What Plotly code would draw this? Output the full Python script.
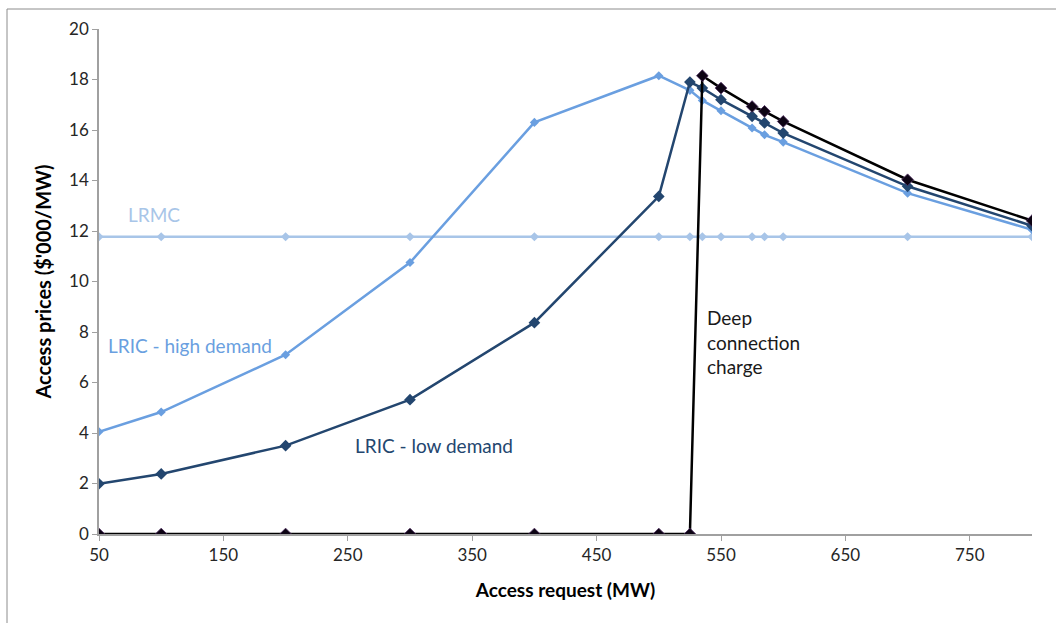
import plotly.graph_objects as go

# Access request levels (MW)
access_mw = [50, 100, 200, 300, 400, 500, 525, 535, 550, 575, 585, 600, 700, 800]

# Access prices ($'000/MW)
lrmc = [11.77] * len(access_mw)
lric_high = [4.05, 4.83, 7.1, 10.75, 16.3, 18.15, 17.57, 17.17, 16.76, 16.08, 15.81, 15.52, 13.5, 12.05]
lric_low = [1.99, 2.38, 3.5, 5.32, 8.37, 13.37, 17.9, 17.66, 17.2, 16.54, 16.28, 15.88, 13.77, 12.21]
deep_charge = [0, 0, 0, 0, 0, 0, 0, 18.15, 17.66, 16.93, 16.74, 16.34, 14.03, 12.41]

x_ticks = [50, 150, 250, 350, 450, 550, 650, 750]
y_ticks = [0, 2, 4, 6, 8, 10, 12, 14, 16, 18, 20]

C_LRMC = "#a8c5e8"
C_HIGH = "#6a9fe0"
C_LOW = "#23466f"
C_DEEP = "#000000"
FONT = "Lato"
LABEL_SIZE = 19

fig = go.Figure()

fig.add_trace(go.Scatter(
    x=access_mw, y=lrmc, mode="lines+markers", name="LRMC",
    line=dict(color=C_LRMC, width=2.5),
    marker=dict(symbol="diamond", size=7, color=C_LRMC),
))
fig.add_trace(go.Scatter(
    x=access_mw, y=lric_high, mode="lines+markers", name="LRIC - high demand",
    line=dict(color=C_HIGH, width=2.5),
    marker=dict(symbol="diamond", size=7, color=C_HIGH),
))
fig.add_trace(go.Scatter(
    x=access_mw, y=lric_low, mode="lines+markers", name="LRIC - low demand",
    line=dict(color=C_LOW, width=2.5),
    marker=dict(symbol="diamond", size=9, color=C_LOW),
))
fig.add_trace(go.Scatter(
    x=access_mw, y=deep_charge, mode="lines+markers", name="Deep connection charge",
    line=dict(color=C_DEEP, width=2.5),
    marker=dict(symbol="diamond", size=9, color="#0d0414",
                line=dict(color="#4a2a5c", width=0.8)),
))

annotations = [
    dict(x=72, y=12.65, text="LRMC", xanchor="left",
         font=dict(color=C_LRMC, size=LABEL_SIZE, family=FONT)),
    dict(x=123, y=7.46, text="LRIC - high demand",
         font=dict(color=C_HIGH, size=LABEL_SIZE, family=FONT)),
    dict(x=319, y=3.5, text="LRIC - low demand",
         font=dict(color=C_LOW, size=LABEL_SIZE, family=FONT)),
    dict(x=537.5, y=7.62, text="Deep<br>connection<br>charge", align="left",
         xanchor="left", yanchor="middle",
         font=dict(color="#1a1a1a", size=LABEL_SIZE, family=FONT)),
]
for a in annotations:
    a.update(xref="x", yref="y", showarrow=False)

fig.update_layout(
    width=1056, height=623,
    margin=dict(l=99, r=24, t=29, b=89),
    paper_bgcolor="white", plot_bgcolor="white",
    showlegend=False,
    font=dict(family=FONT, size=17, color="#262626"),
    annotations=annotations,
    shapes=[
        dict(type="line", xref="paper", yref="paper",
             x0=-92 / 933, x1=1.1, y0=1 + 20 / 505, y1=1 + 20 / 505,
             line=dict(color="#8c8c8c", width=1)),
        dict(type="line", xref="paper", yref="paper",
             x0=-92 / 933, x1=-92 / 933, y0=1 + 20 / 505, y1=-0.2,
             line=dict(color="#8c8c8c", width=1)),
    ],
)

fig.update_xaxes(
    range=[50, 800], tickvals=x_ticks, ticktext=[str(v) for v in x_ticks],
    showgrid=False, zeroline=False,
    showline=True, linecolor="#a0a0a0", linewidth=1.5,
    ticks="outside", ticklen=5, tickcolor="#a0a0a0",
    tickfont=dict(size=17, family=FONT, color="#262626"),
    title=dict(text="<b>Access request (MW)</b>", standoff=20,
               font=dict(size=19, family=FONT, color="#000000")),
)
fig.update_yaxes(
    range=[0, 20], tickvals=y_ticks,
    showgrid=False, zeroline=False,
    showline=True, linecolor="#a0a0a0", linewidth=1.5,
    ticks="outside", ticklen=5, tickcolor="#a0a0a0",
    tickfont=dict(size=17, family=FONT, color="#262626"),
    title=dict(text="<b>Access prices ($'000/MW)</b>", standoff=12,
               font=dict(size=20, family=FONT, color="#000000")),
)

fig.write_html("out.html")
